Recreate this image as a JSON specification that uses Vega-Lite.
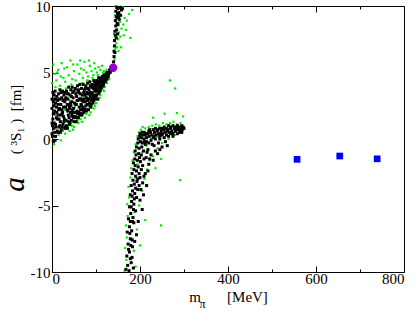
{
  "$schema": "https://vega.github.io/schema/vega-lite/v6.json",
  "width": 352,
  "height": 266,
  "autosize": {"type": "none"},
  "padding": {"left": 52, "top": 6, "right": 11, "bottom": 47},
  "background": "white",
  "config": {
    "view": {"stroke": "#000", "strokeWidth": 1},
    "font": "Liberation Serif",
    "axis": {"grid": false, "domain": false, "labelFont": "Liberation Serif", "titleFont": "Liberation Serif", "labelColor": "#000", "titleColor": "#000", "titleFontWeight": "normal", "tickColor": "#000", "labelFontSize": 15, "titleFontSize": 15}
  },
  "datasets": {
    "scatter": [
      {"m":0,"a":4.2,"s":"g"},{"m":3,"a":5.6,"s":"g"},{"m":6,"a":4.9,"s":"g"},{"m":10,"a":4.4,"s":"g"},{"m":14,"a":5.2,"s":"g"},{"m":18,"a":4.0,"s":"g"},{"m":22,"a":5.7,"s":"g"},{"m":26,"a":4.6,"s":"g"},{"m":30,"a":4.3,"s":"g"},{"m":34,"a":5.4,"s":"g"},{"m":38,"a":4.8,"s":"g"},{"m":42,"a":5.9,"s":"g"},{"m":46,"a":4.5,"s":"g"},{"m":50,"a":5.1,"s":"g"},{"m":54,"a":4.4,"s":"g"},{"m":58,"a":5.6,"s":"g"},{"m":62,"a":4.9,"s":"g"},{"m":66,"a":5.3,"s":"g"},{"m":70,"a":4.6,"s":"g"},{"m":74,"a":5.8,"s":"g"},{"m":78,"a":5.0,"s":"g"},{"m":82,"a":4.7,"s":"g"},{"m":86,"a":5.5,"s":"g"},{"m":90,"a":5.1,"s":"g"},{"m":94,"a":4.8,"s":"g"},{"m":98,"a":5.3,"s":"g"},{"m":102,"a":5.0,"s":"g"},{"m":106,"a":5.4,"s":"g"},{"m":110,"a":5.2,"s":"g"},{"m":114,"a":5.5,"s":"g"},{"m":118,"a":5.1,"s":"g"},{"m":8,"a":3.9,"s":"g"},{"m":20,"a":4.7,"s":"g"},{"m":32,"a":3.8,"s":"g"},{"m":44,"a":4.1,"s":"g"},{"m":56,"a":3.7,"s":"g"},{"m":68,"a":4.2,"s":"g"},{"m":80,"a":4.4,"s":"g"},{"m":92,"a":4.6,"s":"g"},{"m":104,"a":4.8,"s":"g"},{"m":116,"a":5.0,"s":"g"},{"m":124,"a":5.2,"s":"g"},{"m":12,"a":5.0,"s":"g"},{"m":28,"a":5.3,"s":"g"},{"m":48,"a":5.6,"s":"g"},{"m":64,"a":5.9,"s":"g"},{"m":84,"a":5.9,"s":"g"},{"m":96,"a":5.7,"s":"g"},{"m":72,"a":5.2,"s":"g"},
      {"m":2,"a":0.5,"s":"g"},{"m":5,"a":-0.4,"s":"g"},{"m":9,"a":1.8,"s":"g"},{"m":15,"a":0.3,"s":"g"},{"m":20,"a":-0.1,"s":"g"},{"m":25,"a":0.6,"s":"g"},{"m":30,"a":0.4,"s":"g"},{"m":35,"a":1.3,"s":"g"},{"m":40,"a":0.6,"s":"g"},{"m":45,"a":1.0,"s":"g"},{"m":50,"a":0.9,"s":"g"},{"m":55,"a":1.7,"s":"g"},{"m":60,"a":1.2,"s":"g"},{"m":65,"a":1.5,"s":"g"},{"m":70,"a":1.9,"s":"g"},{"m":75,"a":1.6,"s":"g"},{"m":80,"a":2.2,"s":"g"},{"m":85,"a":1.8,"s":"g"},{"m":90,"a":2.4,"s":"g"},{"m":95,"a":2.3,"s":"g"},{"m":100,"a":2.7,"s":"g"},{"m":105,"a":3.0,"s":"g"},{"m":110,"a":3.3,"s":"g"},{"m":115,"a":3.7,"s":"g"},{"m":120,"a":3.9,"s":"g"},{"m":125,"a":4.2,"s":"g"},{"m":130,"a":4.5,"s":"g"},{"m":4,"a":2.6,"s":"g"},{"m":16,"a":1.8,"s":"g"},{"m":28,"a":2.2,"s":"g"},{"m":40,"a":2.9,"s":"g"},{"m":52,"a":2.4,"s":"g"},{"m":64,"a":3.1,"s":"g"},{"m":76,"a":3.3,"s":"g"},{"m":88,"a":3.1,"s":"g"},{"m":24,"a":3.0,"s":"g"},{"m":36,"a":0.9,"s":"g"},{"m":48,"a":0.7,"s":"g"},{"m":58,"a":1.4,"s":"g"},{"m":68,"a":1.3,"s":"g"},{"m":78,"a":1.9,"s":"g"},{"m":88,"a":2.0,"s":"g"},{"m":98,"a":2.5,"s":"g"},{"m":108,"a":3.1,"s":"g"},{"m":118,"a":3.6,"s":"g"},
      {"m":142,"a":6.0,"s":"g"},{"m":144,"a":6.8,"s":"g"},{"m":146,"a":7.2,"s":"g"},{"m":148,"a":6.9,"s":"g"},{"m":150,"a":7.5,"s":"g"},{"m":152,"a":8.0,"s":"g"},{"m":155,"a":7.7,"s":"g"},{"m":158,"a":8.3,"s":"g"},{"m":162,"a":8.6,"s":"g"},{"m":165,"a":9.1,"s":"g"},{"m":170,"a":8.9,"s":"g"},{"m":175,"a":9.4,"s":"g"},{"m":182,"a":9.7,"s":"g"},{"m":160,"a":9.9,"s":"g"},{"m":154,"a":8.8,"s":"g"},{"m":148,"a":9.8,"s":"g"},{"m":163,"a":7.8,"s":"g"},{"m":157,"a":6.9,"s":"g"},{"m":151,"a":6.6,"s":"g"},{"m":168,"a":8.2,"s":"g"},{"m":178,"a":7.6,"s":"g"},{"m":145,"a":10.0,"s":"g"},{"m":141,"a":7.9,"s":"g"},{"m":143,"a":9.3,"s":"g"},
      {"m":165,"a":-9.9,"s":"g"},{"m":169,"a":-9.1,"s":"g"},{"m":166,"a":-8.2,"s":"g"},{"m":170,"a":-7.4,"s":"g"},{"m":168,"a":-6.5,"s":"g"},{"m":172,"a":-5.8,"s":"g"},{"m":171,"a":-4.9,"s":"g"},{"m":175,"a":-4.4,"s":"g"},{"m":174,"a":-3.6,"s":"g"},{"m":178,"a":-2.9,"s":"g"},{"m":180,"a":-2.2,"s":"g"},{"m":183,"a":-1.6,"s":"g"},{"m":186,"a":-1.0,"s":"g"},{"m":190,"a":-0.4,"s":"g"},{"m":194,"a":0.2,"s":"g"},{"m":198,"a":0.5,"s":"g"},{"m":202,"a":0.7,"s":"g"},{"m":206,"a":0.9,"s":"g"},{"m":212,"a":0.8,"s":"g"},{"m":220,"a":0.9,"s":"g"},{"m":228,"a":1.0,"s":"g"},{"m":236,"a":1.1,"s":"g"},{"m":244,"a":1.0,"s":"g"},{"m":252,"a":1.2,"s":"g"},{"m":260,"a":1.1,"s":"g"},{"m":268,"a":1.2,"s":"g"},{"m":276,"a":1.3,"s":"g"},{"m":284,"a":1.1,"s":"g"},{"m":292,"a":1.2,"s":"g"},{"m":230,"a":1.6,"s":"g"},{"m":256,"a":1.9,"s":"g"},{"m":284,"a":1.95,"s":"g"},{"m":298,"a":1.7,"s":"g"},{"m":268,"a":4.4,"s":"g"},{"m":280,"a":3.8,"s":"g"},{"m":296,"a":1.0,"s":"g"},{"m":190,"a":-9.6,"s":"g"},{"m":186,"a":-8.4,"s":"g"},{"m":193,"a":-6.8,"s":"g"},{"m":198,"a":-5.0,"s":"g"},{"m":204,"a":-3.9,"s":"g"},{"m":210,"a":-3.0,"s":"g"},{"m":216,"a":-2.3,"s":"g"},{"m":222,"a":-1.6,"s":"g"},{"m":230,"a":-1.3,"s":"g"},{"m":240,"a":-0.7,"s":"g"},{"m":250,"a":-0.3,"s":"g"},{"m":265,"a":0.0,"s":"g"},{"m":280,"a":0.3,"s":"g"},{"m":200,"a":-8.0,"s":"g"},{"m":212,"a":-6.1,"s":"g"},{"m":248,"a":-6.5,"s":"g"},{"m":291,"a":-3.1,"s":"g"},{"m":235,"a":-2.2,"s":"g"},{"m":248,"a":-1.5,"s":"g"},{"m":192,"a":-3.0,"s":"g"},{"m":188,"a":-5.5,"s":"g"},{"m":183,"a":-7.5,"s":"g"},{"m":180,"a":-9.0,"s":"g"},{"m":195,"a":-1.9,"s":"g"},{"m":205,"a":-1.0,"s":"g"},{"m":215,"a":-0.5,"s":"g"},{"m":225,"a":0.0,"s":"g"},{"m":240,"a":0.2,"s":"g"},
      {"m":1,"a":0.2,"s":"b"},{"m":2,"a":1.5,"s":"b"},{"m":3,"a":2.8,"s":"b"},{"m":4,"a":0.8,"s":"b"},{"m":5,"a":3.3,"s":"b"},{"m":6,"a":2.1,"s":"b"},{"m":7,"a":-0.1,"s":"b"},{"m":8,"a":1.1,"s":"b"},{"m":9,"a":3.0,"s":"b"},{"m":10,"a":2.4,"s":"b"},{"m":2,"a":3.5,"s":"b"},{"m":4,"a":1.9,"s":"b"},{"m":6,"a":0.5,"s":"b"},{"m":8,"a":2.7,"s":"b"},{"m":10,"a":1.6,"s":"b"},{"m":1,"a":1.0,"s":"b"},{"m":3,"a":-0.2,"s":"b"},{"m":5,"a":2.5,"s":"b"},{"m":7,"a":3.6,"s":"b"},{"m":9,"a":0.9,"s":"b"},
      {"m":12,"a":0.6,"s":"b"},{"m":13,"a":2.9,"s":"b"},{"m":14,"a":1.8,"s":"b"},{"m":15,"a":3.4,"s":"b"},{"m":16,"a":0.9,"s":"b"},{"m":17,"a":2.3,"s":"b"},{"m":18,"a":3.7,"s":"b"},{"m":19,"a":1.3,"s":"b"},{"m":20,"a":2.6,"s":"b"},{"m":21,"a":0.7,"s":"b"},{"m":22,"a":3.1,"s":"b"},{"m":23,"a":1.9,"s":"b"},{"m":24,"a":3.6,"s":"b"},{"m":25,"a":1.1,"s":"b"},{"m":26,"a":2.4,"s":"b"},{"m":27,"a":3.3,"s":"b"},{"m":28,"a":1.5,"s":"b"},{"m":29,"a":2.8,"s":"b"},{"m":30,"a":0.9,"s":"b"},{"m":12,"a":1.5,"s":"b"},{"m":15,"a":2.2,"s":"b"},{"m":18,"a":1.0,"s":"b"},{"m":21,"a":3.5,"s":"b"},{"m":24,"a":2.0,"s":"b"},{"m":27,"a":1.3,"s":"b"},{"m":30,"a":3.0,"s":"b"},
      {"m":32,"a":1.4,"s":"b"},{"m":33,"a":3.6,"s":"b"},{"m":34,"a":2.2,"s":"b"},{"m":35,"a":0.8,"s":"b"},{"m":36,"a":3.0,"s":"b"},{"m":37,"a":1.8,"s":"b"},{"m":38,"a":3.9,"s":"b"},{"m":39,"a":2.5,"s":"b"},{"m":40,"a":1.1,"s":"b"},{"m":41,"a":3.3,"s":"b"},{"m":42,"a":2.0,"s":"b"},{"m":43,"a":3.7,"s":"b"},{"m":44,"a":1.4,"s":"b"},{"m":45,"a":2.8,"s":"b"},{"m":46,"a":3.9,"s":"b"},{"m":47,"a":1.7,"s":"b"},{"m":48,"a":3.1,"s":"b"},{"m":49,"a":2.3,"s":"b"},{"m":50,"a":1.3,"s":"b"},{"m":34,"a":3.4,"s":"b"},{"m":38,"a":1.3,"s":"b"},{"m":42,"a":2.7,"s":"b"},{"m":46,"a":2.2,"s":"b"},{"m":50,"a":3.6,"s":"b"},{"m":36,"a":2.1,"s":"b"},{"m":44,"a":3.2,"s":"b"},
      {"m":52,"a":1.7,"s":"b"},{"m":53,"a":3.8,"s":"b"},{"m":54,"a":2.6,"s":"b"},{"m":55,"a":1.3,"s":"b"},{"m":56,"a":3.2,"s":"b"},{"m":57,"a":2.1,"s":"b"},{"m":58,"a":4.0,"s":"b"},{"m":59,"a":2.9,"s":"b"},{"m":60,"a":1.6,"s":"b"},{"m":61,"a":3.5,"s":"b"},{"m":62,"a":2.4,"s":"b"},{"m":63,"a":4.1,"s":"b"},{"m":64,"a":1.9,"s":"b"},{"m":65,"a":3.0,"s":"b"},{"m":66,"a":2.6,"s":"b"},{"m":67,"a":3.8,"s":"b"},{"m":68,"a":1.8,"s":"b"},{"m":69,"a":3.3,"s":"b"},{"m":70,"a":2.4,"s":"b"},{"m":71,"a":4.1,"s":"b"},{"m":72,"a":2.0,"s":"b"},{"m":73,"a":3.0,"s":"b"},{"m":74,"a":3.7,"s":"b"},{"m":75,"a":2.2,"s":"b"},{"m":55,"a":2.6,"s":"b"},{"m":60,"a":3.7,"s":"b"},{"m":65,"a":2.2,"s":"b"},{"m":70,"a":3.0,"s":"b"},{"m":58,"a":1.9,"s":"b"},{"m":68,"a":2.9,"s":"b"},
      {"m":76,"a":2.8,"s":"b"},{"m":77,"a":4.0,"s":"b"},{"m":78,"a":2.1,"s":"b"},{"m":79,"a":3.4,"s":"b"},{"m":80,"a":2.6,"s":"b"},{"m":81,"a":4.2,"s":"b"},{"m":82,"a":3.0,"s":"b"},{"m":83,"a":2.2,"s":"b"},{"m":84,"a":3.7,"s":"b"},{"m":85,"a":2.7,"s":"b"},{"m":86,"a":4.3,"s":"b"},{"m":87,"a":3.2,"s":"b"},{"m":88,"a":2.4,"s":"b"},{"m":89,"a":3.9,"s":"b"},{"m":90,"a":2.9,"s":"b"},{"m":91,"a":4.1,"s":"b"},{"m":92,"a":3.4,"s":"b"},{"m":93,"a":2.7,"s":"b"},{"m":94,"a":3.8,"s":"b"},{"m":95,"a":4.4,"s":"b"},{"m":96,"a":3.1,"s":"b"},{"m":97,"a":3.6,"s":"b"},{"m":98,"a":4.2,"s":"b"},{"m":99,"a":3.0,"s":"b"},{"m":100,"a":3.8,"s":"b"},{"m":80,"a":3.5,"s":"b"},{"m":84,"a":3.0,"s":"b"},{"m":88,"a":3.5,"s":"b"},{"m":92,"a":2.9,"s":"b"},{"m":96,"a":4.0,"s":"b"},
      {"m":101,"a":3.3,"s":"b"},{"m":102,"a":4.4,"s":"b"},{"m":103,"a":3.7,"s":"b"},{"m":104,"a":3.0,"s":"b"},{"m":105,"a":4.1,"s":"b"},{"m":106,"a":4.6,"s":"b"},{"m":107,"a":3.5,"s":"b"},{"m":108,"a":3.9,"s":"b"},{"m":109,"a":4.4,"s":"b"},{"m":110,"a":3.7,"s":"b"},{"m":111,"a":4.1,"s":"b"},{"m":112,"a":4.6,"s":"b"},{"m":113,"a":3.9,"s":"b"},{"m":114,"a":4.3,"s":"b"},{"m":115,"a":4.7,"s":"b"},{"m":116,"a":4.0,"s":"b"},{"m":117,"a":4.5,"s":"b"},{"m":118,"a":4.8,"s":"b"},{"m":119,"a":4.3,"s":"b"},{"m":120,"a":4.6,"s":"b"},{"m":122,"a":4.4,"s":"b"},{"m":123,"a":4.9,"s":"b"},{"m":124,"a":4.6,"s":"b"},{"m":126,"a":4.8,"s":"b"},{"m":127,"a":5.0,"s":"b"},{"m":128,"a":4.7,"s":"b"},{"m":130,"a":5.0,"s":"b"},{"m":131,"a":5.2,"s":"b"},{"m":133,"a":5.1,"s":"b"},{"m":135,"a":5.3,"s":"b"},{"m":136,"a":5.2,"s":"b"},{"m":138,"a":5.4,"s":"b"},
      {"m":0,"a":1.2,"s":"b"},{"m":0,"a":2.3,"s":"b"},{"m":0,"a":0.4,"s":"b"},{"m":0,"a":3.0,"s":"b"},{"m":3,"a":1.9,"s":"b"},{"m":5,"a":1.2,"s":"b"},{"m":6,"a":3.0,"s":"b"},{"m":8,"a":0.2,"s":"b"},{"m":11,"a":2.0,"s":"b"},{"m":11,"a":3.2,"s":"b"},{"m":13,"a":0.5,"s":"b"},{"m":14,"a":2.6,"s":"b"},{"m":16,"a":1.5,"s":"b"},{"m":17,"a":3.0,"s":"b"},{"m":19,"a":0.5,"s":"b"},{"m":20,"a":1.8,"s":"b"},{"m":22,"a":2.2,"s":"b"},{"m":23,"a":0.9,"s":"b"},{"m":25,"a":2.9,"s":"b"},{"m":26,"a":1.7,"s":"b"},{"m":28,"a":3.5,"s":"b"},{"m":29,"a":0.8,"s":"b"},{"m":31,"a":2.4,"s":"b"},{"m":32,"a":3.1,"s":"b"},{"m":33,"a":1.0,"s":"b"},{"m":35,"a":2.6,"s":"b"},{"m":37,"a":3.4,"s":"b"},{"m":39,"a":1.6,"s":"b"},{"m":40,"a":2.3,"s":"b"},{"m":41,"a":1.2,"s":"b"},{"m":43,"a":2.5,"s":"b"},{"m":45,"a":1.8,"s":"b"},{"m":47,"a":3.5,"s":"b"},{"m":48,"a":2.0,"s":"b"},{"m":49,"a":1.6,"s":"b"},{"m":51,"a":2.7,"s":"b"},{"m":53,"a":2.0,"s":"b"},{"m":54,"a":3.4,"s":"b"},{"m":56,"a":1.6,"s":"b"},{"m":57,"a":2.9,"s":"b"},{"m":59,"a":3.6,"s":"b"},{"m":61,"a":2.0,"s":"b"},{"m":62,"a":3.0,"s":"b"},{"m":63,"a":1.8,"s":"b"},{"m":64,"a":3.4,"s":"b"},{"m":66,"a":1.9,"s":"b"},{"m":67,"a":2.5,"s":"b"},{"m":69,"a":2.2,"s":"b"},{"m":71,"a":2.8,"s":"b"},{"m":72,"a":3.5,"s":"b"},{"m":73,"a":2.3,"s":"b"},{"m":75,"a":3.3,"s":"b"},{"m":76,"a":3.8,"s":"b"},{"m":77,"a":2.5,"s":"b"},{"m":78,"a":3.1,"s":"b"},{"m":79,"a":2.2,"s":"b"},{"m":81,"a":2.9,"s":"b"},{"m":82,"a":3.8,"s":"b"},{"m":83,"a":3.4,"s":"b"},{"m":85,"a":3.4,"s":"b"},{"m":86,"a":2.5,"s":"b"},{"m":87,"a":4.0,"s":"b"},{"m":89,"a":2.6,"s":"b"},{"m":90,"a":3.5,"s":"b"},{"m":91,"a":3.1,"s":"b"},{"m":93,"a":3.9,"s":"b"},{"m":94,"a":3.2,"s":"b"},{"m":95,"a":2.9,"s":"b"},{"m":97,"a":4.3,"s":"b"},{"m":98,"a":3.3,"s":"b"},{"m":99,"a":4.0,"s":"b"},{"m":100,"a":3.2,"s":"b"},{"m":102,"a":3.6,"s":"b"},{"m":103,"a":4.2,"s":"b"},{"m":105,"a":3.4,"s":"b"},{"m":106,"a":3.9,"s":"b"},{"m":108,"a":4.3,"s":"b"},{"m":109,"a":3.6,"s":"b"},{"m":111,"a":4.5,"s":"b"},{"m":112,"a":3.9,"s":"b"},{"m":114,"a":4.0,"s":"b"},{"m":115,"a":4.3,"s":"b"},{"m":117,"a":4.1,"s":"b"},{"m":119,"a":4.7,"s":"b"},{"m":121,"a":4.3,"s":"b"},{"m":121,"a":4.8,"s":"b"},{"m":125,"a":4.5,"s":"b"},{"m":125,"a":5.0,"s":"b"},{"m":129,"a":4.9,"s":"b"},{"m":132,"a":5.0,"s":"b"},{"m":134,"a":5.2,"s":"b"},{"m":137,"a":5.3,"s":"b"},
      {"m":140,"a":5.8,"s":"b"},{"m":141,"a":6.2,"s":"b"},{"m":141,"a":6.6,"s":"b"},{"m":142,"a":7.0,"s":"b"},{"m":143,"a":6.5,"s":"b"},{"m":142,"a":7.4,"s":"b"},{"m":144,"a":7.8,"s":"b"},{"m":143,"a":8.1,"s":"b"},{"m":145,"a":8.5,"s":"b"},{"m":144,"a":8.9,"s":"b"},{"m":146,"a":9.2,"s":"b"},{"m":145,"a":9.6,"s":"b"},{"m":147,"a":9.9,"s":"b"},{"m":148,"a":8.7,"s":"b"},{"m":149,"a":9.4,"s":"b"},{"m":150,"a":9.8,"s":"b"},{"m":146,"a":7.6,"s":"b"},{"m":147,"a":8.2,"s":"b"},{"m":148,"a":9.1,"s":"b"},{"m":152,"a":9.5,"s":"b"},{"m":155,"a":9.9,"s":"b"},{"m":158,"a":9.7,"s":"b"},{"m":150,"a":8.6,"s":"b"},{"m":153,"a":9.0,"s":"b"},{"m":160,"a":9.8,"s":"b"},{"m":156,"a":9.3,"s":"b"},{"m":149,"a":7.9,"s":"b"},{"m":151,"a":9.2,"s":"b"},
      {"m":168,"a":-9.8,"s":"b"},{"m":172,"a":-9.5,"s":"b"},{"m":175,"a":-9.9,"s":"b"},{"m":180,"a":-9.3,"s":"b"},{"m":185,"a":-9.7,"s":"b"},{"m":170,"a":-8.8,"s":"b"},{"m":176,"a":-8.5,"s":"b"},{"m":182,"a":-8.9,"s":"b"},{"m":173,"a":-7.9,"s":"b"},{"m":178,"a":-7.5,"s":"b"},{"m":183,"a":-8.1,"s":"b"},{"m":188,"a":-7.7,"s":"b"},{"m":171,"a":-7.0,"s":"b"},{"m":176,"a":-6.6,"s":"b"},{"m":181,"a":-6.9,"s":"b"},{"m":186,"a":-6.3,"s":"b"},{"m":174,"a":-6.0,"s":"b"},{"m":179,"a":-5.6,"s":"b"},{"m":184,"a":-5.9,"s":"b"},{"m":190,"a":-5.4,"s":"b"},{"m":176,"a":-5.1,"s":"b"},{"m":181,"a":-4.7,"s":"b"},{"m":186,"a":-4.9,"s":"b"},{"m":192,"a":-4.4,"s":"b"},{"m":178,"a":-4.2,"s":"b"},{"m":183,"a":-3.9,"s":"b"},{"m":188,"a":-4.1,"s":"b"},{"m":195,"a":-3.8,"s":"b"},{"m":200,"a":-4.6,"s":"b"},{"m":205,"a":-5.3,"s":"b"},{"m":196,"a":-6.2,"s":"b"},{"m":192,"a":-7.2,"s":"b"},
      {"m":180,"a":-3.5,"s":"b"},{"m":184,"a":-3.1,"s":"b"},{"m":187,"a":-3.4,"s":"b"},{"m":190,"a":-2.8,"s":"b"},{"m":193,"a":-3.2,"s":"b"},{"m":182,"a":-2.6,"s":"b"},{"m":186,"a":-2.3,"s":"b"},{"m":189,"a":-2.0,"s":"b"},{"m":192,"a":-2.4,"s":"b"},{"m":196,"a":-2.1,"s":"b"},{"m":200,"a":-2.9,"s":"b"},{"m":206,"a":-3.3,"s":"b"},{"m":212,"a":-2.6,"s":"b"},{"m":185,"a":-1.8,"s":"b"},{"m":188,"a":-1.5,"s":"b"},{"m":191,"a":-1.2,"s":"b"},{"m":194,"a":-1.6,"s":"b"},{"m":197,"a":-1.1,"s":"b"},{"m":201,"a":-1.7,"s":"b"},{"m":206,"a":-2.0,"s":"b"},{"m":214,"a":-1.4,"s":"b"},{"m":220,"a":-1.9,"s":"b"},{"m":189,"a":-0.9,"s":"b"},{"m":192,"a":-0.6,"s":"b"},{"m":195,"a":-0.3,"s":"b"},{"m":198,"a":-0.7,"s":"b"},{"m":201,"a":-0.2,"s":"b"},{"m":204,"a":-0.6,"s":"b"},{"m":208,"a":-0.9,"s":"b"},{"m":212,"a":-0.4,"s":"b"},{"m":218,"a":-0.8,"s":"b"},{"m":225,"a":-1.2,"s":"b"},{"m":235,"a":-0.9,"s":"b"},
      {"m":178,"a":-9.0,"s":"b"},{"m":174,"a":-8.3,"s":"b"},{"m":179,"a":-8.0,"s":"b"},{"m":177,"a":-7.1,"s":"b"},{"m":182,"a":-7.6,"s":"b"},{"m":183,"a":-6.2,"s":"b"},{"m":178,"a":-6.2,"s":"b"},{"m":180,"a":-5.1,"s":"b"},{"m":185,"a":-5.3,"s":"b"},{"m":182,"a":-4.3,"s":"b"},{"m":187,"a":-4.5,"s":"b"},{"m":190,"a":-3.7,"s":"b"},{"m":195,"a":-3.0,"s":"b"},{"m":198,"a":-3.5,"s":"b"},{"m":202,"a":-3.8,"s":"b"},{"m":208,"a":-4.2,"s":"b"},{"m":215,"a":-3.5,"s":"b"},{"m":198,"a":-2.6,"s":"b"},{"m":203,"a":-2.3,"s":"b"},{"m":209,"a":-2.8,"s":"b"},{"m":218,"a":-2.4,"s":"b"},{"m":199,"a":-1.4,"s":"b"},{"m":203,"a":-1.2,"s":"b"},{"m":209,"a":-1.5,"s":"b"},{"m":216,"a":-1.0,"s":"b"},{"m":222,"a":-1.5,"s":"b"},{"m":230,"a":-1.6,"s":"b"},{"m":205,"a":-0.3,"s":"b"},{"m":210,"a":-0.2,"s":"b"},{"m":220,"a":-0.3,"s":"b"},{"m":232,"a":-0.5,"s":"b"},{"m":245,"a":-0.8,"s":"b"},
      {"m":196,"a":0.0,"s":"b"},{"m":199,"a":0.2,"s":"b"},{"m":203,"a":0.1,"s":"b"},{"m":206,"a":0.3,"s":"b"},{"m":209,"a":0.0,"s":"b"},{"m":212,"a":0.3,"s":"b"},{"m":215,"a":0.1,"s":"b"},{"m":218,"a":0.4,"s":"b"},{"m":221,"a":0.2,"s":"b"},{"m":224,"a":0.5,"s":"b"},{"m":227,"a":0.3,"s":"b"},{"m":230,"a":0.1,"s":"b"},{"m":233,"a":0.5,"s":"b"},{"m":236,"a":0.3,"s":"b"},{"m":239,"a":0.6,"s":"b"},{"m":242,"a":0.4,"s":"b"},{"m":245,"a":0.2,"s":"b"},{"m":248,"a":0.6,"s":"b"},{"m":251,"a":0.4,"s":"b"},{"m":254,"a":0.7,"s":"b"},{"m":257,"a":0.5,"s":"b"},{"m":260,"a":0.3,"s":"b"},{"m":263,"a":0.7,"s":"b"},{"m":266,"a":0.5,"s":"b"},{"m":269,"a":0.8,"s":"b"},{"m":272,"a":0.6,"s":"b"},{"m":275,"a":0.4,"s":"b"},{"m":278,"a":0.8,"s":"b"},{"m":281,"a":0.6,"s":"b"},{"m":284,"a":0.8,"s":"b"},{"m":287,"a":0.7,"s":"b"},{"m":290,"a":0.5,"s":"b"},{"m":293,"a":0.8,"s":"b"},{"m":296,"a":0.7,"s":"b"},{"m":298,"a":0.9,"s":"b"},{"m":210,"a":0.5,"s":"b"},{"m":220,"a":0.6,"s":"b"},{"m":230,"a":0.7,"s":"b"},{"m":240,"a":0.7,"s":"b"},{"m":250,"a":0.8,"s":"b"},{"m":260,"a":0.8,"s":"b"},{"m":270,"a":0.9,"s":"b"},{"m":280,"a":0.9,"s":"b"},{"m":290,"a":0.9,"s":"b"},{"m":215,"a":-0.2,"s":"b"},{"m":225,"a":-0.1,"s":"b"},{"m":235,"a":0.0,"s":"b"},{"m":245,"a":0.0,"s":"b"},{"m":255,"a":0.1,"s":"b"},{"m":265,"a":0.2,"s":"b"},{"m":275,"a":0.2,"s":"b"},{"m":285,"a":0.4,"s":"b"},{"m":295,"a":0.5,"s":"b"},{"m":228,"a":-0.4,"s":"b"},{"m":242,"a":-0.3,"s":"b"},{"m":258,"a":-0.2,"s":"b"},{"m":250,"a":-0.6,"s":"b"},{"m":240,"a":-1.1,"s":"b"},{"m":262,"a":-0.5,"s":"b"},
      {"m":200,"a":0.4,"s":"b"},{"m":205,"a":0.5,"s":"b"},{"m":215,"a":0.4,"s":"b"},{"m":222,"a":0.7,"s":"b"},{"m":235,"a":0.8,"s":"b"},{"m":245,"a":0.8,"s":"b"},{"m":255,"a":0.9,"s":"b"},{"m":265,"a":1.0,"s":"b"},{"m":275,"a":1.0,"s":"b"},{"m":285,"a":1.0,"s":"b"},{"m":295,"a":1.0,"s":"b"},{"m":250,"a":0.3,"s":"b"},{"m":270,"a":0.4,"s":"b"},{"m":280,"a":0.6,"s":"b"},{"m":290,"a":0.7,"s":"b"},{"m":300,"a":0.8,"s":"b"},{"m":232,"a":0.2,"s":"b"},{"m":248,"a":0.4,"s":"b"},{"m":262,"a":0.6,"s":"b"}
    ],
    "phys": [{"m":139,"a":5.36}],
    "lattice": [{"m":557,"a":-1.53},{"m":654,"a":-1.28},{"m":739,"a":-1.49}]
  },
  "layer": [
    {
      "data": {"name": "scatter"},
      "mark": {"type": "square", "filled": true, "opacity": 1},
      "encoding": {
        "x": {"field": "m", "type": "quantitative", "scale": {"domain": [0, 800], "nice": false, "zero": false},
              "axis": {"orient": "bottom", "values": [0,100,200,300,400,500,600,700,800],
                       "labelExpr": "datum.value % 200 === 0 ? '' + datum.value : ''",
                       "tickSize": {"condition": {"test": "datum.value % 200 === 0", "value": -6}, "value": -3},
                       "labelPadding": 5,
                       "title": "m\u00a0\u00a0\u00a0\u00a0\u00a0\u00a0\u00a0[MeV]", "titleY": 24, "titleBaseline": "middle"}},
        "y": {"field": "a", "type": "quantitative", "scale": {"domain": [-10, 10], "nice": false, "zero": false},
              "axis": {"orient": "left", "values": [-10,-5,0,5,10], "tickSize": -6, "labelPadding": 8,
                       "labelExpr": "'' + datum.value",
                       "title": "(\u00a0\u00b3S\u2081\u00a0)\u00a0\u00a0[fm]", "titleX": -37, "titleY": 113, "titleBaseline": "middle", "titleAngle": -90}},
        "color": {"field": "s", "type": "nominal", "scale": {"domain": ["g", "b"], "range": ["#00ee00", "#000000"]}, "legend": null},
        "size": {"field": "s", "type": "nominal", "scale": {"domain": ["g", "b"], "range": [5, 9]}, "legend": null}
      }
    },
    {
      "data": {"name": "phys"},
      "mark": {"type": "circle", "size": 70, "opacity": 1, "color": "#9400d3"},
      "encoding": {
        "x": {"field": "m", "type": "quantitative", "axis": null},
        "y": {"field": "a", "type": "quantitative", "axis": null}
      }
    },
    {
      "data": {"name": "lattice"},
      "mark": {"type": "square", "size": 45, "opacity": 1, "filled": true, "color": "#0000ff"},
      "encoding": {
        "x": {"field": "m", "type": "quantitative",
              "axis": {"orient": "top", "values": [0,100,200,300,400,500,600,700,800], "labels": false,
                       "tickSize": {"condition": {"test": "datum.value % 200 === 0", "value": -6}, "value": -3},
                       "title": "π", "titleFontSize": 12, "titleX": 150, "titleY": 297, "titleBaseline": "middle"}},
        "y": {"field": "a", "type": "quantitative",
              "axis": {"orient": "right", "ticks": false, "labels": false, "title": "a", "titleFontSize": 29, "titleFontStyle": "italic",
                       "titleAngle": -90, "titleX": -390, "titleY": 178, "titleBaseline": "middle"}}
      }
    },
    {
      "mark": {"type": "rule", "color": "#666", "strokeWidth": 1},
      "encoding": {"y": {"datum": 0, "type": "quantitative", "axis": null}}
    }
  ],
  "resolve": {"axis": {"x": "independent", "y": "independent"}}
}
